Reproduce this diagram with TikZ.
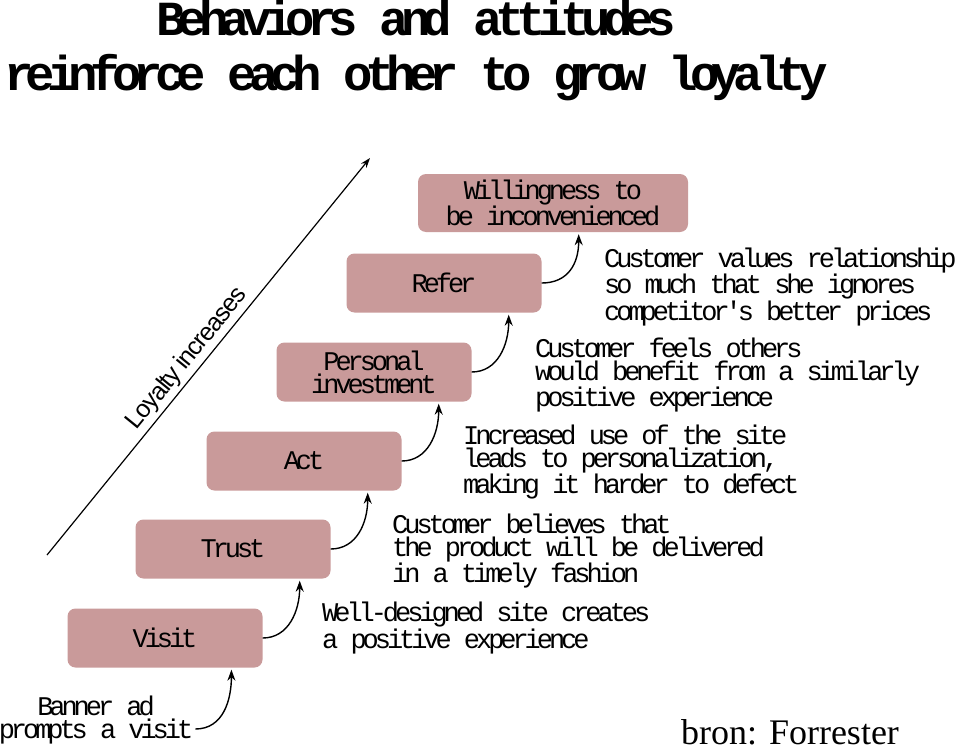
\documentclass[tikz,border=0pt]{standalone}
\usepackage{fontspec}
\usetikzlibrary{arrows.meta,calc}
\setmainfont{Liberation Serif}
\newfontfamily\courfont{Liberation Mono}[LetterSpace=-15]
\newfontfamily\titrefont{Liberation Mono}[LetterSpace=-16]
\newfontfamily\axefont{Liberation Sans}[LetterSpace=-5]
\definecolor{rosebox}{RGB}{201,154,154}

\begin{document}
\begin{tikzpicture}[
    x=1pt, y=-1pt,     % On travaille en pixels, y vers le bas
    % Réglages des boîtes et des textes
    etape/.style={fill=rosebox, rounded corners=8pt, minimum width=195pt,
        minimum height=59pt, inner sep=0pt, align=center,
        font={\courfont\fontsize{27}{23}\selectfont}},
    texte/.style={anchor=west, inner sep=0pt, align=left,
        font={\courfont\fontsize{27}{23}\selectfont}},
    titre/.style={anchor=base, inner sep=0pt,
        font={\titrefont\bfseries\fontsize{49}{56}\selectfont}},
    fleche/.style={line width=1.4pt, -{Stealth[length=11pt,width=8pt]}, shorten >=2pt}
]
\useasboundingbox (0,0) rectangle (960,749);

% Titre
\node[titre] (titre1) at (416,36) {Behaviors and attitudes};
\node[titre] (titre2) at (416,91) {reinforce each other to grow loyalty};

% Axe de la fidélité
\coordinate (bas) at (47,555);
\coordinate (haut) at (370,158);
\draw[line width=1.2pt, -{Stealth[length=10pt,width=7pt]}] (bas) -- (haut)
    node[pos=0.47, sloped, above, inner sep=3pt,
         font={\axefont\fontsize{25}{25}\selectfont}] (axe) {Loyalty increases};

% Les étapes
\node[etape] (visit) at (165,638) {Visit};
\node[etape] (trust) at (233,549) {Trust};
\node[etape] (act) at (304,461) {Act};
\node[etape] (personal) at (374,372) {Personal\\investment};
\node[etape] (refer) at (444,283) {Refer};
\node[etape, minimum width=270pt, minimum height=58pt] (willing) at (553,203)
    {Willingness to\\be inconvenienced};

% Les explications
\node[inner sep=0pt, align=center, font={\courfont\fontsize{27}{23}\selectfont}]
    (banner) at (96,720) {Banner ad\\prompts a visit};
\node[texte] (design) at (322,628) {Well-designed site creates\\a positive experience};
\node[texte] (believes) at (392,551) {Customer believes that\\the product will be delivered\\in a timely fashion};
\node[texte] (increased) at (463,462) {Increased use of the site\\leads to personalization,\\making it harder to defect};
\node[texte] (feels) at (535,375) {Customer feels others\\would benefit from a similarly\\positive experience};
\node[texte] (values) at (604,287) {Customer values relationship\\so much that she ignores\\competitor's better prices};

% Les flèches courbes
\draw[fleche] ($(banner.east)+(2,9)$) .. controls +(28,0) and +(0,32) ..
    ($(banner.east |- visit.south)+(38,0)$);
\foreach \a/\b in {visit/trust, trust/act, act/personal, personal/refer, refer/willing}
    \draw[fleche] (\a.east) .. controls +(26,0) and +(0,32) ..
        ($(\a.east |- \b.south)+(37,0)$);

% Source
\node[anchor=base, inner sep=0pt, text depth=0pt, font=\fontsize{36}{36}\selectfont]
    (source) at (790,744) {bron: Forrester};
\end{tikzpicture}
\end{document}
